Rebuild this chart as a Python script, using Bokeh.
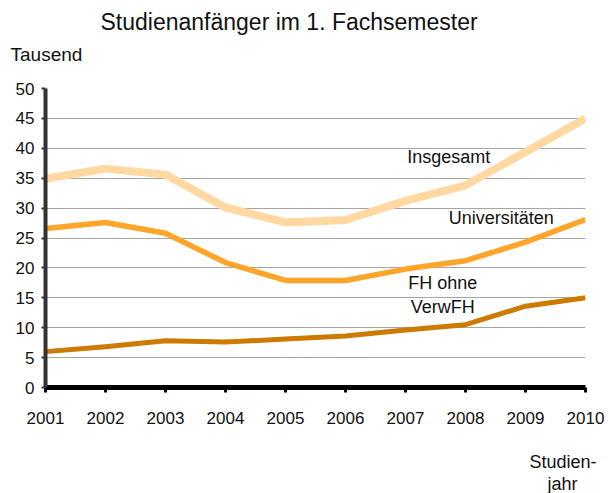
from bokeh.plotting import figure
from bokeh.models import Label, Range1d, FixedTicker, Title
from bokeh.embed import file_html
from bokeh.resources import INLINE

years = [2001, 2002, 2003, 2004, 2005, 2006, 2007, 2008, 2009, 2010]
insgesamt = [34.9, 36.6, 35.6, 30.1, 27.6, 28.0, 31.2, 33.8, 39.4, 45.0]
universitaeten = [26.6, 27.6, 25.8, 20.9, 17.9, 17.9, 19.8, 21.2, 24.3, 28.1]
fh_ohne_verwfh = [6.0, 6.8, 7.8, 7.6, 8.1, 8.6, 9.6, 10.5, 13.6, 15.0]
y_ticks = [0, 5, 10, 15, 20, 25, 30, 35, 40, 45, 50]

FONT = "Liberation Sans"

p = figure(width=610, height=493, output_backend="svg", toolbar_location=None,
           x_range=Range1d(2001, 2010), y_range=Range1d(0, 50),
           min_border_left=45, min_border_right=25, min_border_top=0,
           min_border_bottom=0)
p.title = None
p.outline_line_color = None
p.background_fill_color = "white"
p.border_fill_color = "white"

p.xgrid.grid_line_color = None
p.ygrid.grid_line_color = "#a6a6a6"
p.ygrid.grid_line_width = 1
p.ygrid.ticker = FixedTicker(ticks=y_ticks)

p.xaxis.ticker = FixedTicker(ticks=years)
p.xaxis.axis_line_color = "black"
p.xaxis.axis_line_width = 5
p.xaxis.major_tick_line_color = "black"
p.xaxis.major_tick_line_width = 3
p.xaxis.major_tick_out = 5
p.xaxis.major_tick_in = 0
p.xaxis.minor_tick_line_color = None
p.xaxis.major_label_standoff = 19
p.xaxis.major_label_text_font = FONT
p.xaxis.major_label_text_font_size = "17px"
p.xaxis.major_label_text_color = "#111111"

p.yaxis.ticker = FixedTicker(ticks=y_ticks)
p.yaxis.axis_line_color = "#333333"
p.yaxis.axis_line_width = 4
p.yaxis.major_tick_line_color = "#333333"
p.yaxis.major_tick_line_width = 2
p.yaxis.major_tick_out = 4
p.yaxis.major_tick_in = 0
p.yaxis.minor_tick_line_color = None
p.yaxis.major_label_standoff = 7
p.yaxis.major_label_text_font = FONT
p.yaxis.major_label_text_font_size = "17px"
p.yaxis.major_label_text_color = "#111111"

p.line(years, fh_ohne_verwfh, line_color="#cc7a00", line_width=5, line_join="round")
p.line(years, universitaeten, line_color="#ffa52a", line_width=5.5, line_join="round")
p.line(years, insgesamt, line_color="#ffd9a1", line_width=8, line_join="round")

def lab(x, y, t, size="18px", align="left"):
    p.add_layout(Label(x=x, y=y, text=t, text_font=FONT, text_font_size=size,
                       text_color="#111111", text_align=align,
                       text_baseline="middle"))

lab(2007.03, 38.6, "Insgesamt")
lab(2007.72, 28.4, "Universitäten")
lab(2007.62, 17.4, "FH ohne", align="center")
lab(2007.62, 13.5, "VerwFH", align="center")

def ttl(text, where, offset, standoff, size="18px"):
    t = Title(text=text, align="left", offset=offset, standoff=standoff,
              text_font=FONT, text_font_size=size, text_font_style="normal",
              text_color="#111111")
    p.add_layout(t, where)

# above: innermost first
ttl(" ", "above", 0, 20, size="1px")
ttl("Tausend", "above", -35, 1, size="19px")
ttl("Studienanfänger im 1. Fachsemester", "above", 55, 13, size="23px")
# below: innermost first
ttl(" ", "below", 0, 20, size="1px")
ttl("Studien-", "below", 484, 0)
ttl("jahr", "below", 502, 0)

open("out.html", "w").write(file_html(p, INLINE))
